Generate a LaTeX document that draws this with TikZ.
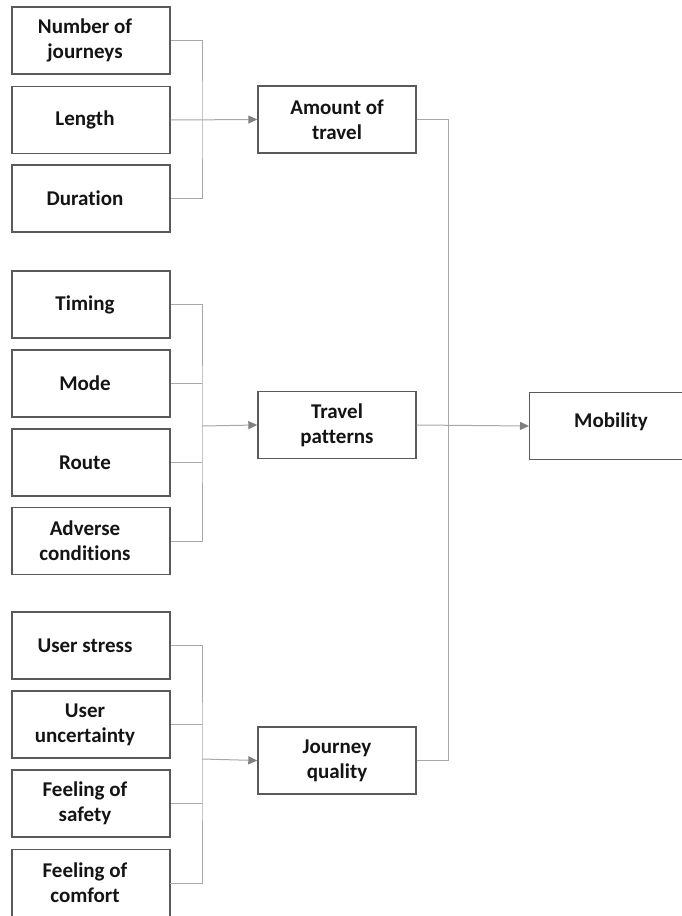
\documentclass[tikz,border=0pt]{standalone}
\usepackage{fontspec}
\setmainfont{Carlito}[Ligatures=NoCommon]
\usetikzlibrary{arrows.meta}
\definecolor{boxline}{HTML}{5A5A5A}
\definecolor{wirecol}{HTML}{A8A8A8}
\definecolor{tipcol}{HTML}{808080}
\definecolor{inkcol}{HTML}{141414}
\begin{document}
\begin{tikzpicture}[x=1pt,y=-1pt,
  factor/.style={draw=boxline, line width=1.4pt, minimum width=158pt,
    minimum height=67pt, inner sep=0pt},
  txt/.style={font=\bfseries\fontsize{21}{25}\selectfont, align=center,
    text=inkcol, inner sep=0pt},
  tag/.style={label={[txt,xshift=-6pt]center:{#1}}},
  wire/.style={draw=wirecol, line width=1pt},
  feed/.style={wire, -{Triangle[length=9pt,width=8pt,fill=tipcol,color=tipcol]}}
]
\useasboundingbox (0,0) rectangle (682,916);
\clip (0,0) rectangle (682,916);

% ---- first group: amount of travel
\node[factor, tag={Number of\\journeys}] (jn) at (91,40.5) {};
\node[factor, tag={Length}]              (ln) at (91,120) {};
\node[factor, tag={Duration}]            (du) at (91,198.5) {};

% ---- second group: travel patterns
\node[factor, tag={Timing}]                (ti) at (91,304.5) {};
\node[factor, tag={Mode}]                  (mo) at (91,383.5) {};
\node[factor, tag={Route}]                 (ro) at (91,462.5) {};
\node[factor, tag={Adverse\\conditions}]   (ad) at (91,541) {};

% ---- third group: journey quality (last box runs past the lower edge)
\node[factor, tag={User stress}]         (us) at (91,645.5) {};
\node[factor, tag={User\\uncertainty}]   (uu) at (91,724.5) {};
\node[factor, tag={Feeling of\\safety}]  (fs) at (91,803.5) {};
\node[factor, minimum height=87pt, anchor=north] (fc) at (91,849) {};
\node[txt, xshift=-6pt] (fct) at (91,882.5) {Feeling of\\comfort};

% ---- aggregated dimensions (mobility box runs past the right edge)
\node[factor, label={[txt]center:{Amount of\\travel}}]   (am) at (337,119.5) {};
\node[factor, label={[txt]center:{Travel\\patterns}}]    (tp) at (337,425) {};
\node[factor, label={[txt]center:{Journey\\quality}}]    (jq) at (337,760.5) {};
\node[factor, minimum width=180pt, anchor=west] (mb) at (529,426) {};
\node[txt] (mbt) at (611,422) {Mobility};

% ---- bracket coordinates
\coordinate (b1) at (202,120);
\coordinate (b2) at (202,426);
\coordinate (b3) at (202,759);
\coordinate (rb) at (448,0);
\coordinate (fcr) at (170,883);

% first bracket
\draw[wire] (jn.east) -| (b1) |- (du.east);
\draw[feed] (ln.east) -- (am.west);

% second bracket
\draw[wire] (ti.east) -| (b2) |- (ad.east);
\draw[wire] (mo.east) -- (mo.east -| b2);
\draw[wire] (ro.east) -- (ro.east -| b2);
\draw[feed] (b2) -- (tp.west);

% third bracket
\draw[wire] (us.east) -| (b3) |- (fcr);
\draw[wire] (uu.east) -- (uu.east -| b3);
\draw[wire] (fs.east) -- (fs.east -| b3);
\draw[feed] (b3) -- (jq.west);

% right bracket into mobility
\draw[wire] (am.east) -| (am.east -| rb) |- (jq.east);
\draw[feed] (tp.east) -- (mb.west);
\end{tikzpicture}
\end{document}
